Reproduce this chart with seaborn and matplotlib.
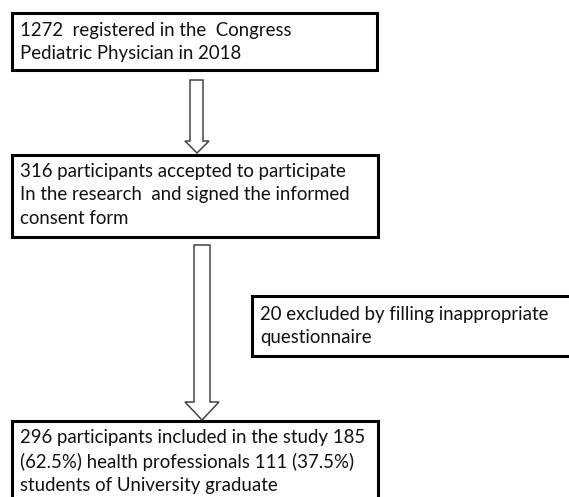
import matplotlib
matplotlib.use("Agg")
import matplotlib.pyplot as plt
from matplotlib.patches import Rectangle, Polygon
import seaborn as sns

# flow counts
registered = 1272
congress_year = 2018
accepted = 316
excluded = 20
included = 296
n_health = 185
n_students = 111

box_texts = [
    f"{registered}  registered in the  Congress\nPediatric Physician in {congress_year}",
    f"{accepted} participants accepted to participate\nIn the research  and signed the informed\nconsent form",
    f"{included} participants included in the study {n_health}\n"
    f"({n_health / included * 100:.1f}%) health professionals {n_students} ({n_students / included * 100:.1f}%)\n"
    "students of University graduate",
    f"{excluded} excluded by filling inappropriate\nquestionnaire",
]

sns.set_theme(style="white")
plt.rcParams["font.family"] = ["Lato", "DejaVu Sans"]

W, H = 569, 497
fig = plt.figure(figsize=(W / 100, H / 100), dpi=100)
ax = fig.add_axes([0, 0, 1, 1])
ax.set_xlim(0, W)
ax.set_ylim(H, 0)
ax.axis("off")

# (left, top, right, bottom) in pixels
boxes = [
    (12, 13, 377, 70),
    (12, 155, 378, 237),
    (12, 421, 378, 505),
    (252, 296, 580, 356),
]
text_tops = [22, 163, 429, 306]

for (x0, y0, x1, y1), txt, ty in zip(boxes, box_texts, text_tops):
    ax.add_patch(Rectangle((x0, y0), x1 - x0, y1 - y0, facecolor="white",
                           edgecolor="black", lw=2.2))
    ax.text(x0 + 8, ty, txt, ha="left", va="top", fontsize=13.4,
            color="#111111", linespacing=1.45)


def block_arrow(xl, xr, top, head_y, hl, hr, tip):
    cx = (hl + hr) / 2
    pts = [(xl, top), (xr, top), (xr, head_y), (hr, head_y), (cx, tip),
           (hl, head_y), (xl, head_y)]
    ax.add_patch(Polygon(pts, closed=True, facecolor="white",
                         edgecolor="#444444", lw=1.1))


block_arrow(190, 203, 80, 141, 185, 209, 153)
block_arrow(194, 210, 245, 402, 185, 219, 420)

fig.savefig("out.png", dpi=100)
